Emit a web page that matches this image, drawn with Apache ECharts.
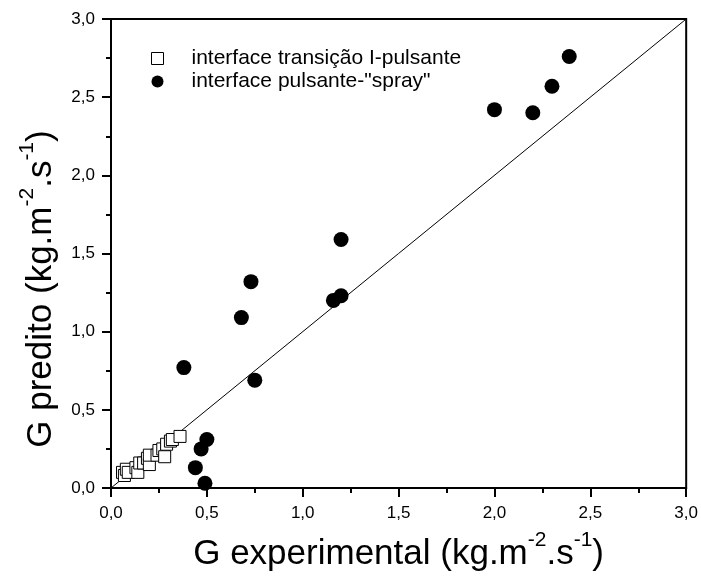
<!DOCTYPE html>
<html>
<head>
<meta charset="utf-8">
<script src="https://cdn.jsdelivr.net/npm/echarts@6/dist/echarts.min.js"></script>
<style>html,body{margin:0;padding:0;background:#fff}#c{width:701px;height:581px}</style>
</head>
<body>
<div id="c"></div>
<script>
// Series 1: interface transição I-pulsante (hollow squares)
var squareX = [0.06, 0.07, 0.08, 0.09, 0.13, 0.14, 0.15, 0.17, 0.19, 0.20, 0.20, 0.24, 0.25, 0.27, 0.28, 0.29, 0.31, 0.32, 0.36];
var squareY = [0.10, 0.08, 0.12, 0.10, 0.13, 0.10, 0.16, 0.16, 0.19, 0.15, 0.21, 0.21, 0.24, 0.25, 0.20, 0.28, 0.30, 0.31, 0.33];
// Series 2: interface pulsante-"spray" (filled circles)
var circleX = [0.38, 0.68, 0.73, 0.75, 1.16, 1.20, 1.20, 2.00, 2.20, 2.30, 2.39, 0.44, 0.47, 0.50, 0.49];
var circleY = [0.77, 1.09, 1.32, 0.69, 1.20, 1.23, 1.59, 2.42, 2.40, 2.57, 2.76, 0.13, 0.25, 0.31, 0.03];
// Reference line y = x
var lineX = [0, 3];
var lineY = [0, 3];
var tickLabels = ['0,0', '0,5', '1,0', '1,5', '2,0', '2,5', '3,0'];
var seriesNames = ['interface transição I-pulsante', 'interface pulsante-"spray"'];

function zip(a, b) { return a.map(function (v, i) { return [v, b[i]]; }); }
function fmt(v) { var i = Math.round(v / 0.5); return tickLabels[i] !== undefined ? tickLabels[i] : ''; }

var FONT = '"Liberation Sans", Arial, sans-serif';
var titleRich = {
  a: { fontSize: 35, fontFamily: FONT, color: '#000', lineHeight: 42, verticalAlign: 'bottom' },
  s: { fontSize: 21, fontFamily: FONT, color: '#000', verticalAlign: 'top', lineHeight: 42 }
};
var axisCommon = {
  min: 0, max: 3, interval: 0.5,
  axisLine: { show: true, lineStyle: { color: '#000', width: 2 } },
  axisTick: { show: true, inside: false, length: 9, lineStyle: { color: '#000', width: 2 } },
  minorTick: { show: true, splitNumber: 2, length: 5, lineStyle: { color: '#000', width: 2 } },
  splitLine: { show: false },
  axisLabel: { color: '#000', fontSize: 17, fontFamily: FONT, formatter: fmt },
  nameLocation: 'middle'
};

var chart = echarts.init(document.getElementById('c'), null, { renderer: 'canvas' });
chart.setOption({
  animation: false,
  backgroundColor: '#fff',
  grid: { left: 111, right: 14, top: 19, bottom: 93, show: true, borderColor: '#000', borderWidth: 2, backgroundColor: 'transparent' },
  xAxis: Object.assign({}, axisCommon, {
    type: 'value',
    axisLabel: Object.assign({}, axisCommon.axisLabel, { margin: 17 }),
    name: '{a|G experimental (kg.m}{s|-2}{a|.s}{s|-1}{a|)}',
    nameGap: 42,
    nameTextStyle: { rich: titleRich }
  }),
  yAxis: Object.assign({}, axisCommon, {
    type: 'value',
    axisLabel: Object.assign({}, axisCommon.axisLabel, { margin: 16 }),
    name: '{a|G predito (kg.m}{s|-2}{a|.s}{s|-1}{a|)}',
    nameGap: 52,
    nameRotate: 90,
    nameTextStyle: { rich: titleRich, padding: [0, 71, 0, 0] }
  }),
  legend: {
    left: 146, top: 43, orient: 'vertical', itemGap: 2, itemWidth: 12, itemHeight: 12,
    textStyle: { fontSize: 21, fontFamily: FONT, color: '#000', padding: [0, 0, 0, 23] },
    data: [
      { name: seriesNames[0], icon: 'rect', itemStyle: { color: '#fff', borderColor: '#000', borderWidth: 1 } },
      { name: seriesNames[1], icon: 'circle' }
    ]
  },
  series: [
    { type: 'line', data: zip(lineX, lineY), symbol: 'none', lineStyle: { color: '#000', width: 1 }, silent: true, z: 1 },
    { name: seriesNames[0], type: 'scatter', data: zip(squareX, squareY), symbol: 'rect', symbolSize: 12,
      itemStyle: { color: '#fff', borderColor: '#000', borderWidth: 1, opacity: 1 }, z: 3 },
    { name: seriesNames[1], type: 'scatter', data: zip(circleX, circleY), symbol: 'circle', symbolSize: 15,
      itemStyle: { color: '#000', opacity: 1 }, z: 4 }
  ]
});
</script>
</body>
</html>
